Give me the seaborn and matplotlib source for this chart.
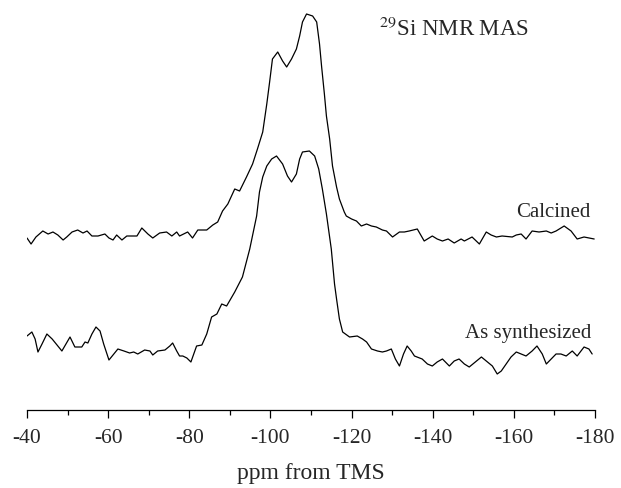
import numpy as np
import matplotlib
matplotlib.use('Agg')
import matplotlib.pyplot as plt
import seaborn as sns

# chemical shift (ppm) and intensity (arb. units)
calc_ppm = [-40.0, -41.0, -42.2, -43.9, -45.2, -46.4, -47.6, -48.9, -49.8, -51.1,
            -52.5, -53.8, -54.8, -56.0, -57.5, -59.2, -60.2, -61.2, -62.1, -63.4,
            -64.6, -67.1, -68.3, -69.8, -71.0, -72.7, -74.4, -75.7, -76.9, -77.6,
            -79.6, -80.8, -82.1, -84.3, -85.8, -87.0, -88.2, -89.5, -91.2, -92.4,
            -94.1, -95.6, -96.8, -98.1, -99.1, -99.8, -100.5, -101.8, -103.0, -104.0,
            -105.2, -106.4, -107.2, -107.9, -108.9, -110.4, -111.4, -112.1, -112.6, -113.3,
            -113.8, -114.6, -115.3, -116.3, -117.0, -118.2, -118.7, -120.0, -121.2, -122.4,
            -123.7, -124.9, -126.1, -127.6, -128.6, -130.1, -131.8, -133.0, -134.2, -136.2,
            -137.9, -139.9, -141.1, -142.4, -143.8, -145.3, -147.0, -147.8, -149.7, -151.5,
            -153.2, -154.4, -155.7, -157.1, -159.6, -160.6, -161.8, -163.0, -164.5, -166.2,
            -168.0, -169.2, -170.4, -172.4, -174.1, -175.6, -177.3, -179.8]
calc_int = [1, -5, 2, 8, 5, 7, 4, -1, 2, 7,
            9, 6, 8, 3, 3, 5, 1, -1, 4, -1,
            3, 3, 11, 5, 1, 6, 7, 3, 7, 3,
            7, 1, 9, 9, 14, 17, 28, 35, 50, 48,
            62, 75, 90, 107, 135, 157, 180, 187, 178, 172,
            180, 190, 203, 217, 225, 223, 217, 195, 173, 145,
            123, 100, 73, 52, 40, 27, 23, 20, 18, 13,
            15, 13, 12, 9, 8, 2, 7, 7, 8, 10,
            -2, 3, 0, -2, 0, -4, 0, -2, 2, -5,
            7, 4, 2, 3, 2, 4, 5, 0, 8, 7,
            8, 6, 8, 13, 8, 0, 2, 0]

syn_ppm = [-40.0, -41.2, -42.0, -42.7, -43.7, -44.9, -46.2, -47.4, -48.6, -49.6,
           -50.6, -51.8, -53.5, -54.3, -55.0, -56.0, -57.0, -58.0, -58.9, -60.2,
           -61.2, -62.4, -63.9, -65.3, -66.3, -67.3, -69.0, -70.3, -71.0, -72.2,
           -74.0, -75.2, -75.9, -76.9, -77.6, -78.4, -79.4, -80.4, -81.1, -81.8,
           -83.1, -84.3, -85.5, -86.8, -88.0, -89.2, -91.2, -93.1, -94.9, -96.6,
           -97.3, -98.1, -99.1, -100.3, -101.5, -103.0, -104.2, -105.2, -106.4, -107.2,
           -107.9, -109.6, -110.9, -111.9, -112.8, -113.8, -115.0, -115.8, -116.3, -117.0,
           -117.8, -119.5, -121.4, -122.7, -123.7, -124.9, -126.4, -127.6, -128.6, -129.8,
           -130.8, -131.8, -132.8, -133.7, -134.7, -135.5, -137.4, -138.7, -139.9, -141.1,
           -142.4, -144.1, -145.3, -146.5, -147.8, -149.0, -150.5, -152.0, -153.2, -154.7,
           -155.9, -156.9, -158.1, -159.3, -160.6, -161.8, -163.0, -164.5, -165.7, -167.0,
           -168.0, -169.2, -170.4, -171.6, -172.9, -174.4, -175.6, -177.3, -178.5, -179.3]
syn_int = [15, 19, 12, -1, 7, 17, 12, 6, 0, 7,
           14, 4, 4, 9, 8, 17, 24, 20, 7, -9,
           -4, 2, 0, -2, -1, -3, 1, 0, -4, 0,
           1, 5, 8, 0, -5, -5, -7, -11, -3, 5,
           6, 17, 34, 37, 47, 45, 59, 74, 102, 135,
           159, 174, 185, 192, 195, 187, 175, 169, 177, 192,
           199, 200, 195, 182, 162, 137, 102, 67, 52, 32,
           19, 14, 15, 12, 9, 2, 0, -1, 0, 2,
           -8, -15, -3, 5, 0, -5, -8, -13, -15, -11,
           -8, -15, -10, -8, -13, -16, -11, -6, -10, -15,
           -23, -20, -13, -6, -1, -3, -5, 0, 5, -3,
           -13, -8, -3, -3, -5, 0, -5, 4, 2, -3]

major_ticks = list(range(-40, -181, -20))
minor_ticks = list(range(-50, -180, -20))

sns.set_theme(style='white')
plt.rcParams['font.family'] = ['Liberation Serif', 'DejaVu Serif']
plt.rcParams['mathtext.fontset'] = 'stix'

fig = plt.figure(figsize=(6.21, 4.89), dpi=100)
ax = fig.add_axes([27 / 621, 78 / 489, 568 / 621, 411 / 489])

sns.lineplot(x=calc_ppm, y=np.array(calc_int) + 171, ax=ax, color='black',
             linewidth=0.9, sort=False, estimator=None)
sns.lineplot(x=syn_ppm, y=np.array(syn_int) + 59, ax=ax, color='black',
             linewidth=0.9, sort=False, estimator=None)

ax.set_xlim(-40, -180)
ax.set_ylim(0, 411)
ax.set_xticks(major_ticks)
ax.set_xticks(minor_ticks, minor=True)
ax.set_xticklabels([str(t) for t in major_ticks])
ax.set_yticks([])
for s in ['top', 'right', 'left']:
    ax.spines[s].set_visible(False)
ax.spines['bottom'].set_color('black')
ax.spines['bottom'].set_linewidth(0.9)
ax.tick_params(axis='x', which='major', direction='out', length=6, width=0.9,
               color='black', labelsize=15.5, pad=7, bottom=True)
ax.tick_params(axis='x', which='minor', direction='out', length=3.5, width=0.9,
               color='black', bottom=True)
ax.set_xlabel('ppm from TMS', fontsize=17, labelpad=11)

ax.text(-179, 194, 'Calcined', ha='right', va='baseline', fontsize=15)
ax.text(-179, 73, 'As synthesized', ha='right', va='baseline', fontsize=15)
ax.text(-126.8, 375, r'$^{29}$Si NMR MAS', ha='left', va='baseline', fontsize=16.5)

fig.savefig('out.png', dpi=100)
